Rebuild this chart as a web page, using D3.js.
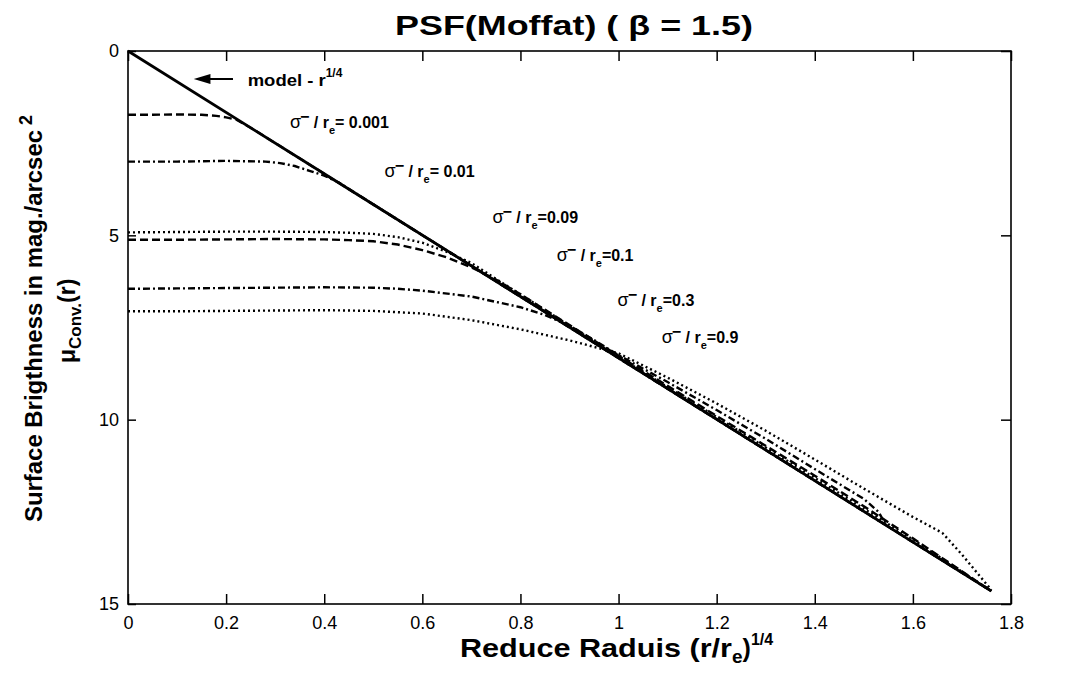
<!DOCTYPE html>
<html>
<head>
<meta charset="utf-8">
<script src="https://cdn.jsdelivr.net/npm/d3@7"></script>
<style>
  body { margin: 0; background: #fff; }
  text { font-family: "Liberation Sans", Arial, sans-serif; fill: #000; }
</style>
</head>
<body>
<svg id="chart"></svg>
<script>
const width = 1073, height = 673;

// tick values
const xTicks = [0, 0.2, 0.4, 0.6, 0.8, 1, 1.2, 1.4, 1.6, 1.8];
const yTicks = [0, 5, 10, 15];

// model r^1/4 law (solid)
const model = [[0, 0], [0.4, 3.33], [0.8, 6.66], [1.2, 9.99], [1.6, 13.32], [1.76, 14.65]];

// convolved profiles
const s0001 = [[0, 1.73], [0.05, 1.73], [0.1, 1.72], [0.15, 1.73], [0.18, 1.76], [0.2, 1.8], [0.22, 1.86], [0.25, 2.08], [0.4, 3.33], [1.0, 8.33], [1.76, 14.65]];
const s001 = [[0, 3.0], [0.1, 3.0], [0.2, 2.98], [0.28, 3.0], [0.31, 3.04], [0.34, 3.12], [0.37, 3.25], [0.4, 3.38], [0.43, 3.57], [0.5, 4.16], [1.0, 8.33], [1.76, 14.65]];
const s009 = [[0, 4.92], [0.1, 4.91], [0.2, 4.9], [0.3, 4.9], [0.4, 4.91], [0.45, 4.93], [0.5, 4.96], [0.55, 5.05], [0.6, 5.2], [0.65, 5.45], [0.7, 5.75], [0.75, 6.18], [0.8, 6.6], [1.0, 8.3], [1.2, 9.93], [1.4, 11.58], [1.6, 13.25], [1.76, 14.65]];
const s01 = [[0, 5.12], [0.1, 5.12], [0.2, 5.11], [0.3, 5.1], [0.4, 5.11], [0.45, 5.13], [0.5, 5.16], [0.55, 5.25], [0.6, 5.4], [0.65, 5.6], [0.7, 5.87], [0.75, 6.2], [0.8, 6.6], [1.0, 8.27], [1.2, 9.9], [1.4, 11.52], [1.5, 12.35], [1.6, 13.22], [1.76, 14.65]];
const s03 = [[0, 6.45], [0.1, 6.44], [0.2, 6.43], [0.3, 6.42], [0.4, 6.41], [0.5, 6.42], [0.55, 6.45], [0.6, 6.5], [0.7, 6.66], [0.8, 6.95], [0.85, 7.16], [0.9, 7.45], [0.95, 7.84], [1.0, 8.25], [1.1, 8.98], [1.2, 9.74], [1.3, 10.52], [1.4, 11.34], [1.5, 12.15], [1.53, 12.5], [1.545, 12.86]];
const s09 = [[0, 7.06], [0.1, 7.06], [0.2, 7.05], [0.3, 7.04], [0.4, 7.03], [0.5, 7.05], [0.6, 7.12], [0.7, 7.3], [0.8, 7.55], [0.9, 7.85], [1.0, 8.2], [1.1, 8.86], [1.2, 9.56], [1.3, 10.3], [1.4, 11.08], [1.5, 11.87], [1.6, 12.64], [1.66, 13.07], [1.7, 13.66], [1.76, 14.62]];

const sigmaLabels = [
  { x: 0.33, y: 2.09, val: "= 0.001" },
  { x: 0.523, y: 3.42, val: "= 0.01" },
  { x: 0.743, y: 4.66, val: "=0.09" },
  { x: 0.874, y: 5.7, val: "=0.1", gap: true },
  { x: 0.998, y: 6.91, val: "=0.3" },
  { x: 1.088, y: 7.91, val: "=0.9" }
];

const svg = d3.select("#chart").attr("width", width).attr("height", height);

const x = d3.scaleLinear().domain([0, 1.8]).range([128, 1011]);
const y = d3.scaleLinear().domain([0, 15]).range([51, 604]);

const line = d3.line().x(d => x(d[0])).y(d => y(d[1]));

// frame
svg.append("rect")
  .attr("x", x(0)).attr("y", y(0))
  .attr("width", x(1.8) - x(0)).attr("height", y(15) - y(0))
  .attr("fill", "none").attr("stroke", "#000").attr("stroke-width", 1.6);

// axes with inward ticks
const xb = svg.append("g").attr("transform", `translate(0,${y(15)})`)
  .call(d3.axisBottom(x).tickValues(xTicks).tickSizeInner(-10).tickSizeOuter(0).tickPadding(12)
    .tickFormat(d => d3.format("~g")(d)));
const xt = svg.append("g").attr("transform", `translate(0,${y(0)})`)
  .call(d3.axisTop(x).tickValues(xTicks).tickSizeInner(-10).tickSizeOuter(0).tickFormat(""));
const yl = svg.append("g").attr("transform", `translate(${x(0)},0)`)
  .call(d3.axisLeft(y).tickValues(yTicks).tickSizeInner(-8).tickSizeOuter(0).tickPadding(9));
const yr = svg.append("g").attr("transform", `translate(${x(1.8)},0)`)
  .call(d3.axisRight(y).tickValues(yTicks).tickSizeInner(-10).tickSizeOuter(0).tickFormat(""));

[xb, xt, yl, yr].forEach(g => {
  g.select(".domain").remove();
  g.selectAll("line").attr("stroke", "#000").attr("stroke-width", 1.5);
  g.selectAll("text").style("font-size", "18px").style("font-family", "'Liberation Sans', Arial, sans-serif").attr("fill", "#000");
});

// curves
const series = [
  { data: s0001, dash: "8,4" },
  { data: s001, dash: "7,3,2,3" },
  { data: s009, dash: "2,3" },
  { data: s01, dash: "8,4" },
  { data: s03, dash: "7,3,2,3" },
  { data: s09, dash: "2,3" }
];
svg.selectAll(".conv").data(series).enter().append("path")
  .attr("class", "conv")
  .attr("d", d => line(d.data))
  .attr("fill", "none").attr("stroke", "#000")
  .attr("stroke-width", 2.4)
  .attr("stroke-dasharray", d => d.dash);

svg.append("path")
  .attr("d", line(model))
  .attr("fill", "none").attr("stroke", "#000").attr("stroke-width", 2.8);

// arrow + model label
svg.append("line")
  .attr("x1", x(0.15)).attr("x2", x(0.214))
  .attr("y1", y(0.76)).attr("y2", y(0.76))
  .attr("stroke", "#000").attr("stroke-width", 2);
svg.append("path")
  .attr("d", `M${x(0.134)},${y(0.76)} L${x(0.168)},${y(0.76) - 5} L${x(0.168)},${y(0.76) + 5} Z`)
  .attr("fill", "#000");
const mt = svg.append("text").attr("x", x(0.244)).attr("y", y(0.95))
  .style("font-size", "16px").style("font-weight", "bold");
mt.append("tspan").attr("textLength", 78).attr("lengthAdjust", "spacingAndGlyphs").text("model - r");
mt.append("tspan").attr("dy", -9).style("font-size", "12px").text("1/4");

// sigma labels
sigmaLabels.forEach(l => {
  const t = svg.append("text").attr("x", x(l.x)).attr("y", y(l.y))
    .style("font-size", "16px").style("font-weight", "bold");
  t.append("tspan").style("font-weight", "normal").style("font-size", "18px").text("σ");
  t.append("tspan").attr("dx", -1).attr("dy", -6).text("−");
  t.append("tspan").attr("dy", 6).text(l.gap ? "  / r" : " / r");
  t.append("tspan").attr("dy", 6).style("font-size", "11px").text("e");
  t.append("tspan").attr("dy", -6).text(l.val);
});

// title
svg.append("text").attr("x", 395).attr("y", 35)
  .attr("textLength", 358).attr("lengthAdjust", "spacingAndGlyphs")
  .style("font-size", "28px").style("font-weight", "bold")
  .text("PSF(Moffat) ( β = 1.5)");

// x label
const xl = svg.append("text").attr("x", 460).attr("y", 657)
  .style("font-size", "25px").style("font-weight", "bold");
xl.append("tspan").attr("textLength", 272).attr("lengthAdjust", "spacingAndGlyphs").text("Reduce Raduis (r/r");
xl.append("tspan").attr("dy", 6).style("font-size", "19px").text("e");
xl.append("tspan").attr("dy", -6).text(")");
xl.append("tspan").attr("dy", -12).style("font-size", "16px").text("1/4");

// y label, two lines
const yg = svg.append("g").attr("transform", "translate(42,522) rotate(-90)");
const y1 = yg.append("text").style("font-size", "24px").style("font-weight", "bold");
y1.append("tspan").attr("textLength", 392).attr("lengthAdjust", "spacingAndGlyphs").text("Surface Brigthness in mag./arcsec");
y1.append("tspan").attr("dy", -10).attr("dx", 5).style("font-size", "18px").text("2");
const y2 = yg.append("text").attr("x", 159).attr("y", 33)
  .style("font-size", "23px").style("font-weight", "bold");
y2.append("tspan").text("μ");
y2.append("tspan").attr("dy", 6).style("font-size", "17px").text("Conv.");
y2.append("tspan").attr("dy", -6).text("(r)");
</script>
</body>
</html>
